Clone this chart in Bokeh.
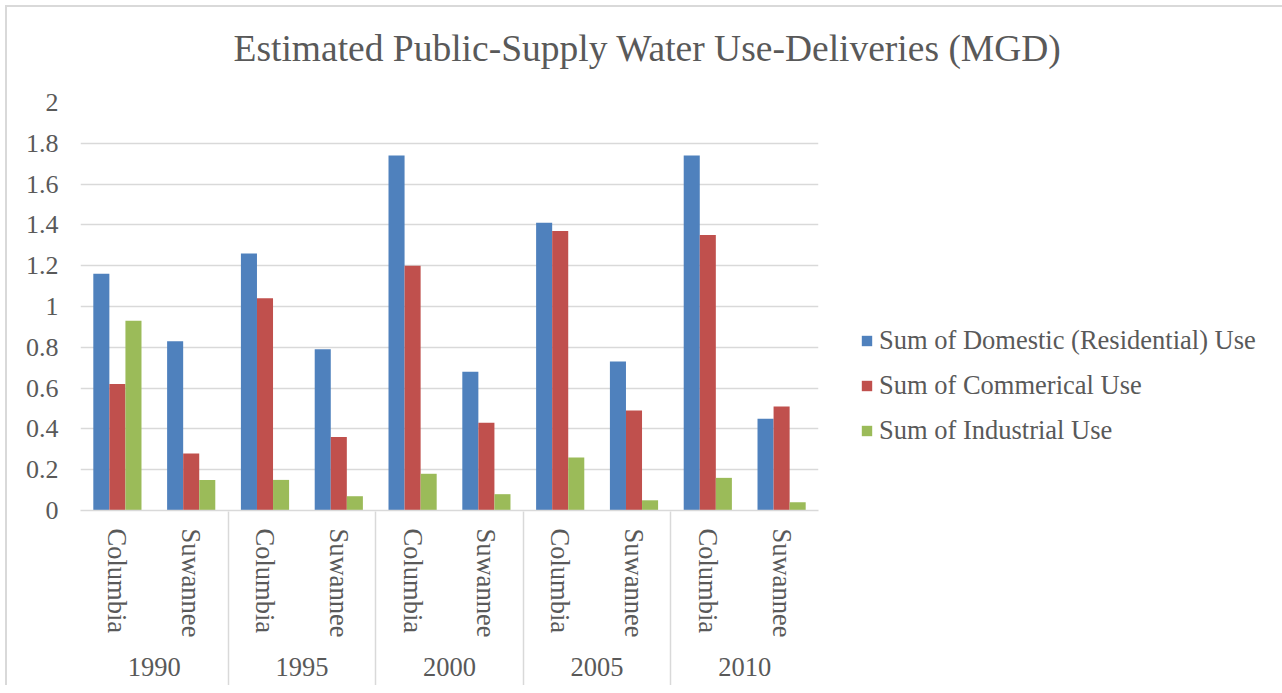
from bokeh.plotting import figure
from bokeh.models import (FactorRange, Range1d, CategoricalAxis, FixedTicker, Legend,
                          LegendItem, Title, ColumnDataSource)
from bokeh.transform import dodge
from bokeh.embed import file_html
from bokeh.resources import INLINE

# ---------------- data ----------------
title_text = "Estimated Public-Supply Water Use-Deliveries (MGD)"
years = ["1990", "1995", "2000", "2005", "2010"]
counties = ["Columbia", "Suwannee"]
series_names = ["Sum of Domestic (Residential) Use",
                "Sum of Commerical Use",
                "Sum of Industrial Use"]
domestic = [1.16, 0.83, 1.26, 0.79, 1.74, 0.68, 1.41, 0.73, 1.74, 0.45]
commercial = [0.62, 0.28, 1.04, 0.36, 1.20, 0.43, 1.37, 0.49, 1.35, 0.51]
industrial = [0.93, 0.15, 0.15, 0.07, 0.18, 0.08, 0.26, 0.05, 0.16, 0.04]
y_ticks = [0, 0.2, 0.4, 0.6, 0.8, 1, 1.2, 1.4, 1.6, 1.8, 2]
y_tick_labels = ["0", "0.2", "0.4", "0.6", "0.8", "1", "1.2", "1.4", "1.6", "1.8", "2"]
colors = ["#4F81BD", "#C0504D", "#9BBB59"]

# ---------------- styling ----------------
FONT = "Liberation Serif"
TXT = "#595959"
GRID = "#d9d9d9"
FS = "26px"
FS2 = "26.5px"

factors = [(y, c) for y in years for c in counties]
source = ColumnDataSource(dict(x=factors, domestic=domestic,
                               commercial=commercial, industrial=industrial))

x_range = FactorRange(*factors, group_padding=0, factor_padding=0,
                      subgroup_padding=0, range_padding=0)

p = figure(x_range=x_range, y_range=Range1d(0, 2),
           frame_width=738, frame_height=408,
           min_border_left=73, min_border_right=460, min_border_top=0,
           min_border_bottom=0,
           output_backend="svg", toolbar_location=None,
           styles={"margin-left": "5px", "margin-top": "5px",
                   "border-left": "2px solid #d9d9d9", "border-top": "2px solid #d9d9d9"})
p.outline_line_color = None
p.background_fill_color = "white"
p.border_fill_color = "white"

bw = 0.2176
renderers = []
for col, off, c in zip(["domestic", "commercial", "industrial"], [-bw, 0, bw], colors):
    r = p.vbar(x=dodge("x", off, range=p.x_range), top=col, width=bw, source=source,
               fill_color=c, line_color=None)
    renderers.append(r)

# grid
p.xgrid.grid_line_color = None
p.ygrid.grid_line_color = GRID
p.ygrid.grid_line_width = 1.5

# y axis
ya = p.yaxis[0]
ya.ticker = FixedTicker(ticks=y_ticks)
ya.major_label_overrides = dict(zip(y_ticks, y_tick_labels))
ya.axis_line_color = None
ya.major_tick_line_color = None
ya.minor_tick_line_color = None
ya.major_tick_out = 0
ya.major_tick_in = 0
ya.major_label_standoff = 22
ya.major_label_text_font = FONT
ya.major_label_text_font_size = FS
ya.major_label_text_color = TXT

# categorical x axis
xa = p.xaxis[0]
xa.axis_line_color = GRID
xa.axis_line_width = 1.5
xa.major_tick_line_color = None
xa.major_tick_out = 0
xa.major_tick_in = 0
xa.major_label_orientation = "vertical"
xa.major_label_standoff = 18
xa.major_label_text_font = FONT
xa.major_label_text_font_size = FS2
xa.major_label_text_color = TXT
xa.group_text_font = FONT
xa.group_text_font_size = FS2
xa.group_text_font_style = "normal"
xa.group_text_color = TXT
xa.separator_line_color = None

# separator lines between year groups (inward ticks of a helper categorical axis
# whose factor centres sit on the year-group boundaries)
sep_factors = ["b%d" % i for i in range(len(years) + 1)]
p.extra_x_ranges = {"sep": FactorRange(*sep_factors, range_padding=-1.0 / len(sep_factors),
                                       range_padding_units="percent")}
sep_axis = CategoricalAxis(x_range_name="sep",
                           major_tick_in=168, major_tick_out=6,
                           major_tick_line_color=GRID, major_tick_line_width=1.5,
                           axis_line_color=None,
                           major_label_text_font_size="1px", major_label_text_color=None,
                           major_label_standoff=0)
p.add_layout(sep_axis, "below")

# title (outermost above panel) with a blank spacer panel between it and the frame
p.add_layout(Title(text=" ", text_font_size="1px", standoff=9), "above")
p.title.text = title_text
p.title.align = "left"
p.title.offset = 153
p.title.vertical_align = "top"
p.title.standoff = 40
p.title.text_font = FONT
p.title.text_font_size = "37.5px"
p.title.text_font_style = "normal"
p.title.text_color = TXT

# legend in the right panel
legend = Legend(items=[LegendItem(label=n, renderers=[r]) for n, r in zip(series_names, renderers)],
                location=(42, 64), glyph_width=13, glyph_height=13, label_height=26,
                spacing=14, padding=0, margin=0, border_line_color=None,
                background_fill_alpha=0, label_standoff=6,
                label_text_font=FONT, label_text_font_size=FS2, label_text_color=TXT)
p.add_layout(legend, "right")

open("out.html", "w").write(file_html(p, INLINE))
